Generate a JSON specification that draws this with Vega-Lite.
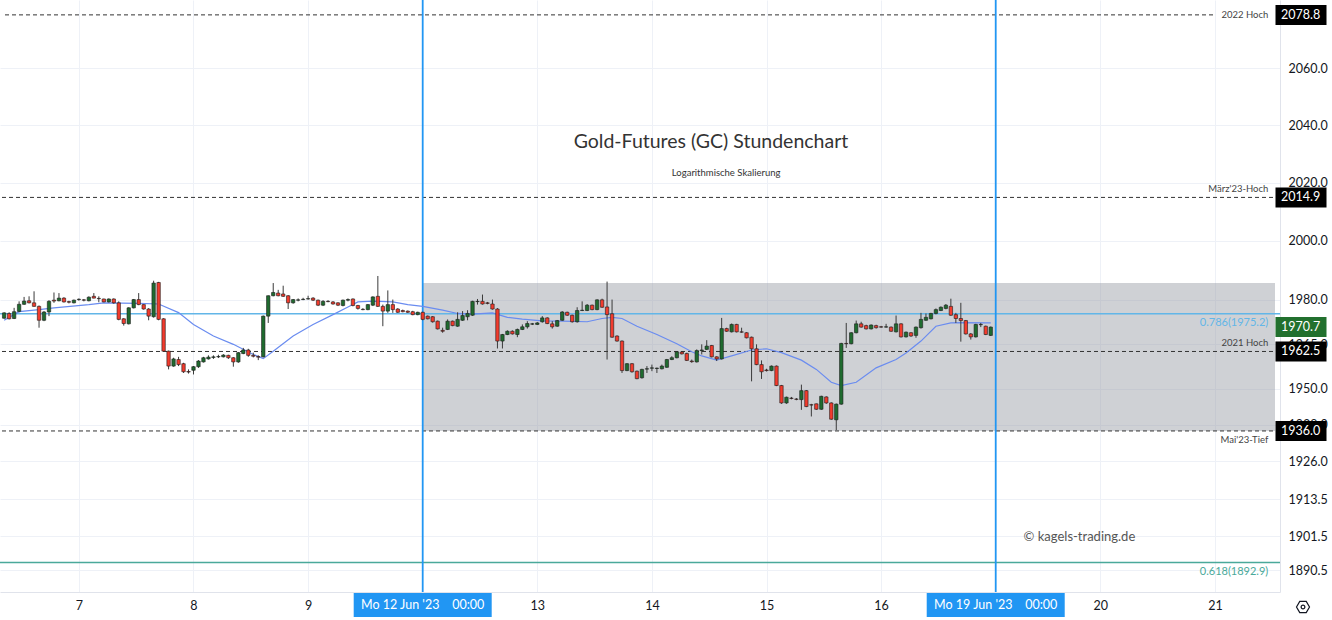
{
"$schema": "https://vega.github.io/schema/vega-lite/v6.json",
"width": 1280, "height": 592,
"autosize": {"type": "none"},
"padding": {"left": 0, "top": 0, "right": 52, "bottom": 28},
"background": "#ffffff",
"config": {"view": {"stroke": null}, "font": "Lato"},
"resolve": {"axis": {"x": "independent", "y": "independent"}},
"datasets": {
"candles": [
{"t":-84,"o":1973.7,"h":1975.7,"l":1973.5,"c":1975.5},
{"t":-83,"o":1975.3,"h":1975.7,"l":1973.3,"c":1973.5},
{"t":-82,"o":1973.6,"h":1977.2,"l":1973.4,"c":1975.9},
{"t":-81,"o":1976.0,"h":1979.4,"l":1975.7,"c":1978.4},
{"t":-80,"o":1978.4,"h":1980.9,"l":1978.2,"c":1979.5},
{"t":-79,"o":1979.6,"h":1981.1,"l":1978.7,"c":1978.9},
{"t":-78,"o":1978.9,"h":1982.8,"l":1977.6,"c":1977.7},
{"t":-77,"o":1977.7,"h":1978.0,"l":1970.5,"c":1973.0},
{"t":-76,"o":1973.0,"h":1976.1,"l":1972.7,"c":1975.8},
{"t":-75,"o":1975.8,"h":1979.8,"l":1974.4,"c":1979.4},
{"t":-74,"o":1979.8,"h":1982.4,"l":1978.9,"c":1979.5},
{"t":-73,"o":1979.6,"h":1982.2,"l":1979.4,"c":1980.5},
{"t":-72,"o":1980.5,"h":1980.8,"l":1979.0,"c":1979.2},
{"t":-71,"o":1979.3,"h":1979.6,"l":1978.7,"c":1979.1},
{"t":-70,"o":1978.9,"h":1980.0,"l":1978.7,"c":1979.8},
{"t":-69,"o":1980.0,"h":1980.4,"l":1979.6,"c":1980.1},
{"t":-68,"o":1979.9,"h":1980.2,"l":1979.4,"c":1979.8},
{"t":-67,"o":1979.6,"h":1981.1,"l":1979.4,"c":1980.8},
{"t":-66,"o":1981.1,"h":1982.2,"l":1980.4,"c":1980.5},
{"t":-65,"o":1980.4,"h":1981.1,"l":1979.1,"c":1980.3},
{"t":-64,"o":1980.2,"h":1980.3,"l":1979.1,"c":1979.2},
{"t":-63,"o":1979.2,"h":1980.4,"l":1979.0,"c":1980.2},
{"t":-62,"o":1980.2,"h":1980.4,"l":1978.6,"c":1978.9},
{"t":-61,"o":1978.9,"h":1979.4,"l":1973.0,"c":1973.3},
{"t":-60,"o":1973.5,"h":1973.7,"l":1971.2,"c":1971.9},
{"t":-59,"o":1971.8,"h":1977.4,"l":1971.6,"c":1977.2},
{"t":-58,"o":1977.2,"h":1980.2,"l":1977.0,"c":1980.0},
{"t":-57,"o":1980.0,"h":1982.2,"l":1978.1,"c":1978.3},
{"t":-56,"o":1978.3,"h":1978.4,"l":1976.6,"c":1976.8},
{"t":-55,"o":1976.8,"h":1977.1,"l":1973.0,"c":1974.4},
{"t":-54,"o":1974.2,"h":1986.4,"l":1973.9,"c":1985.6},
{"t":-53,"o":1985.8,"h":1986.0,"l":1973.0,"c":1973.3},
{"t":-52,"o":1973.5,"h":1973.7,"l":1962.4,"c":1962.6},
{"t":-51,"o":1962.6,"h":1962.8,"l":1956.5,"c":1957.6},
{"t":-50,"o":1957.6,"h":1960.4,"l":1957.4,"c":1960.0},
{"t":-49,"o":1959.8,"h":1960.7,"l":1957.6,"c":1958.1},
{"t":-48,"o":1958.4,"h":1958.7,"l":1955.3,"c":1955.7},
{"t":-47,"o":1955.8,"h":1956.5,"l":1955.1,"c":1955.6},
{"t":-46,"o":1956.2,"h":1957.6,"l":1954.8,"c":1957.4},
{"t":-45,"o":1957.4,"h":1959.6,"l":1957.0,"c":1959.3},
{"t":-44,"o":1959.0,"h":1960.7,"l":1958.8,"c":1960.4},
{"t":-43,"o":1960.0,"h":1961.2,"l":1959.8,"c":1960.6},
{"t":-42,"o":1960.5,"h":1961.2,"l":1960.0,"c":1960.7},
{"t":-41,"o":1960.7,"h":1961.4,"l":1960.3,"c":1960.8},
{"t":-40,"o":1960.7,"h":1961.6,"l":1960.5,"c":1961.3},
{"t":-39,"o":1961.2,"h":1961.4,"l":1960.0,"c":1960.4},
{"t":-38,"o":1960.4,"h":1960.6,"l":1957.4,"c":1959.0},
{"t":-37,"o":1959.0,"h":1962.3,"l":1958.7,"c":1962.1},
{"t":-36,"o":1961.8,"h":1963.7,"l":1961.6,"c":1963.0},
{"t":-35,"o":1963.0,"h":1963.4,"l":1960.7,"c":1961.2},
{"t":-34,"o":1961.2,"h":1962.1,"l":1960.5,"c":1960.9},
{"t":-33,"o":1960.8,"h":1961.2,"l":1959.6,"c":1960.6},
{"t":-32,"o":1960.7,"h":1974.6,"l":1960.5,"c":1974.4},
{"t":-31,"o":1974.4,"h":1981.4,"l":1972.1,"c":1981.3},
{"t":-30,"o":1981.3,"h":1985.6,"l":1981.1,"c":1982.4},
{"t":-29,"o":1982.2,"h":1983.3,"l":1981.1,"c":1981.3},
{"t":-28,"o":1981.9,"h":1984.7,"l":1980.9,"c":1981.1},
{"t":-27,"o":1981.3,"h":1981.5,"l":1976.8,"c":1978.9},
{"t":-26,"o":1978.9,"h":1980.2,"l":1978.6,"c":1980.0},
{"t":-25,"o":1979.8,"h":1980.4,"l":1979.4,"c":1979.9},
{"t":-24,"o":1980.0,"h":1980.6,"l":1979.8,"c":1980.1},
{"t":-23,"o":1980.2,"h":1981.3,"l":1980.0,"c":1980.3},
{"t":-22,"o":1980.5,"h":1980.8,"l":1979.5,"c":1979.8},
{"t":-21,"o":1979.8,"h":1980.0,"l":1977.8,"c":1978.1},
{"t":-20,"o":1978.1,"h":1979.8,"l":1977.8,"c":1979.4},
{"t":-19,"o":1979.4,"h":1979.8,"l":1979.1,"c":1979.3},
{"t":-18,"o":1979.2,"h":1979.5,"l":1978.3,"c":1978.5},
{"t":-17,"o":1978.9,"h":1979.1,"l":1977.8,"c":1978.1},
{"t":-16,"o":1978.0,"h":1980.0,"l":1977.7,"c":1979.8},
{"t":-15,"o":1979.8,"h":1980.4,"l":1979.4,"c":1980.0},
{"t":-14,"o":1980.2,"h":1980.4,"l":1977.7,"c":1978.0},
{"t":-13,"o":1978.0,"h":1978.2,"l":1976.6,"c":1977.0},
{"t":-12,"o":1976.7,"h":1977.1,"l":1976.4,"c":1976.6},
{"t":-11,"o":1976.6,"h":1978.5,"l":1976.4,"c":1978.3},
{"t":-10,"o":1978.1,"h":1981.1,"l":1977.8,"c":1980.9},
{"t":-9,"o":1981.1,"h":1988.0,"l":1977.5,"c":1977.7},
{"t":-8,"o":1977.7,"h":1978.3,"l":1971.0,"c":1976.1},
{"t":-7,"o":1976.1,"h":1983.1,"l":1975.5,"c":1978.3},
{"t":-6,"o":1978.3,"h":1980.0,"l":1975.5,"c":1976.6},
{"t":-5,"o":1976.8,"h":1977.1,"l":1975.5,"c":1975.7},
{"t":-4,"o":1976.3,"h":1976.6,"l":1975.7,"c":1975.9},
{"t":-3,"o":1976.1,"h":1976.3,"l":1975.5,"c":1975.7},
{"t":-2,"o":1975.9,"h":1976.2,"l":1974.7,"c":1974.9},
{"t":-1,"o":1974.9,"h":1975.9,"l":1974.7,"c":1975.7},
{"t":0,"o":1975.7,"h":1975.9,"l":1973.0,"c":1973.3},
{"t":1,"o":1974.4,"h":1974.6,"l":1973.3,"c":1973.5},
{"t":2,"o":1974.2,"h":1974.4,"l":1972.2,"c":1972.5},
{"t":3,"o":1972.7,"h":1972.9,"l":1969.9,"c":1970.1},
{"t":4,"o":1969.6,"h":1970.5,"l":1968.8,"c":1969.3},
{"t":5,"o":1969.9,"h":1973.3,"l":1969.7,"c":1972.7},
{"t":6,"o":1972.7,"h":1972.9,"l":1971.0,"c":1971.2},
{"t":7,"o":1971.0,"h":1975.7,"l":1970.8,"c":1973.3},
{"t":8,"o":1973.0,"h":1976.1,"l":1972.8,"c":1974.6},
{"t":9,"o":1974.2,"h":1976.4,"l":1973.0,"c":1975.3},
{"t":10,"o":1974.7,"h":1979.6,"l":1974.5,"c":1979.4},
{"t":11,"o":1979.3,"h":1980.2,"l":1978.3,"c":1979.4},
{"t":12,"o":1979.4,"h":1981.7,"l":1978.3,"c":1978.5},
{"t":13,"o":1978.9,"h":1979.2,"l":1978.4,"c":1978.7},
{"t":14,"o":1978.5,"h":1980.0,"l":1976.6,"c":1976.8},
{"t":15,"o":1976.8,"h":1977.1,"l":1963.5,"c":1966.0},
{"t":16,"o":1966.0,"h":1968.4,"l":1963.5,"c":1968.2},
{"t":17,"o":1968.2,"h":1969.6,"l":1968.0,"c":1969.3},
{"t":18,"o":1969.3,"h":1969.6,"l":1968.2,"c":1968.4},
{"t":19,"o":1968.2,"h":1970.2,"l":1967.3,"c":1969.9},
{"t":20,"o":1969.9,"h":1971.6,"l":1969.7,"c":1970.8},
{"t":21,"o":1970.8,"h":1972.7,"l":1970.2,"c":1971.9},
{"t":22,"o":1971.7,"h":1972.1,"l":1971.4,"c":1971.8},
{"t":23,"o":1971.6,"h":1972.4,"l":1971.4,"c":1972.1},
{"t":24,"o":1972.5,"h":1974.4,"l":1972.2,"c":1973.8},
{"t":25,"o":1973.8,"h":1974.0,"l":1971.7,"c":1971.9},
{"t":26,"o":1971.8,"h":1972.7,"l":1970.2,"c":1970.8},
{"t":27,"o":1971.0,"h":1973.1,"l":1970.8,"c":1972.9},
{"t":28,"o":1973.0,"h":1976.1,"l":1972.8,"c":1975.8},
{"t":29,"o":1975.7,"h":1975.9,"l":1974.5,"c":1974.7},
{"t":30,"o":1974.7,"h":1974.9,"l":1972.2,"c":1972.5},
{"t":31,"o":1972.5,"h":1977.4,"l":1972.2,"c":1976.3},
{"t":32,"o":1976.3,"h":1979.4,"l":1976.1,"c":1976.4},
{"t":33,"o":1976.3,"h":1978.5,"l":1976.1,"c":1978.1},
{"t":34,"o":1978.1,"h":1978.3,"l":1976.4,"c":1976.6},
{"t":35,"o":1976.6,"h":1980.1,"l":1976.4,"c":1979.9},
{"t":36,"o":1979.9,"h":1980.3,"l":1977.2,"c":1977.4},
{"t":37,"o":1977.5,"h":1986.1,"l":1959.8,"c":1974.9},
{"t":38,"o":1975.2,"h":1980.0,"l":1967.1,"c":1967.3},
{"t":39,"o":1967.7,"h":1967.9,"l":1965.8,"c":1966.0},
{"t":40,"o":1966.0,"h":1966.2,"l":1955.3,"c":1956.1},
{"t":41,"o":1956.1,"h":1958.6,"l":1955.9,"c":1958.4},
{"t":42,"o":1958.4,"h":1958.6,"l":1955.4,"c":1955.7},
{"t":43,"o":1955.9,"h":1956.1,"l":1953.2,"c":1953.4},
{"t":44,"o":1953.7,"h":1956.7,"l":1953.4,"c":1956.5},
{"t":45,"o":1956.6,"h":1957.6,"l":1955.3,"c":1956.7},
{"t":46,"o":1956.9,"h":1958.1,"l":1955.9,"c":1957.0},
{"t":47,"o":1956.8,"h":1957.1,"l":1955.3,"c":1956.9},
{"t":48,"o":1956.7,"h":1958.1,"l":1956.5,"c":1957.6},
{"t":49,"o":1957.2,"h":1960.0,"l":1957.0,"c":1959.8},
{"t":50,"o":1959.8,"h":1960.9,"l":1959.6,"c":1960.4},
{"t":51,"o":1960.4,"h":1962.6,"l":1960.2,"c":1962.4},
{"t":52,"o":1962.3,"h":1962.5,"l":1961.5,"c":1961.7},
{"t":53,"o":1961.8,"h":1962.1,"l":1959.3,"c":1959.5},
{"t":54,"o":1959.3,"h":1959.8,"l":1958.7,"c":1959.1},
{"t":55,"o":1959.0,"h":1963.2,"l":1958.8,"c":1962.8},
{"t":56,"o":1962.8,"h":1964.9,"l":1961.5,"c":1963.0},
{"t":57,"o":1963.2,"h":1966.3,"l":1963.0,"c":1964.3},
{"t":58,"o":1964.5,"h":1964.7,"l":1960.5,"c":1960.7},
{"t":59,"o":1960.7,"h":1960.9,"l":1959.3,"c":1960.0},
{"t":60,"o":1960.0,"h":1973.8,"l":1959.8,"c":1970.2},
{"t":61,"o":1970.2,"h":1970.5,"l":1969.1,"c":1969.3},
{"t":62,"o":1969.1,"h":1971.9,"l":1968.9,"c":1971.6},
{"t":63,"o":1971.6,"h":1971.8,"l":1968.9,"c":1969.1},
{"t":64,"o":1969.1,"h":1970.5,"l":1968.8,"c":1969.0},
{"t":65,"o":1968.8,"h":1969.0,"l":1966.9,"c":1967.1},
{"t":66,"o":1967.3,"h":1967.5,"l":1952.5,"c":1963.4},
{"t":67,"o":1963.4,"h":1964.9,"l":1957.9,"c":1958.1},
{"t":68,"o":1958.1,"h":1959.5,"l":1953.3,"c":1955.7},
{"t":69,"o":1956.3,"h":1956.7,"l":1955.8,"c":1956.1},
{"t":70,"o":1956.1,"h":1957.8,"l":1955.9,"c":1957.6},
{"t":71,"o":1957.6,"h":1957.8,"l":1950.9,"c":1951.1},
{"t":72,"o":1951.1,"h":1951.3,"l":1945.0,"c":1945.3},
{"t":73,"o":1945.3,"h":1947.4,"l":1945.0,"c":1947.2},
{"t":74,"o":1946.9,"h":1947.3,"l":1946.5,"c":1946.8},
{"t":75,"o":1946.6,"h":1946.9,"l":1946.2,"c":1946.5},
{"t":76,"o":1946.4,"h":1951.4,"l":1943.0,"c":1949.4},
{"t":77,"o":1949.4,"h":1949.6,"l":1943.9,"c":1944.1},
{"t":78,"o":1944.7,"h":1945.0,"l":1940.8,"c":1944.6},
{"t":79,"o":1945.0,"h":1945.1,"l":1943.0,"c":1943.2},
{"t":80,"o":1943.2,"h":1947.7,"l":1943.0,"c":1947.5},
{"t":81,"o":1947.3,"h":1947.5,"l":1945.0,"c":1945.3},
{"t":82,"o":1945.3,"h":1945.5,"l":1939.7,"c":1939.9},
{"t":83,"o":1939.7,"h":1945.1,"l":1936.3,"c":1944.9},
{"t":84,"o":1944.9,"h":1965.4,"l":1944.7,"c":1965.2},
{"t":85,"o":1965.2,"h":1972.1,"l":1963.7,"c":1965.1},
{"t":86,"o":1965.1,"h":1969.0,"l":1964.9,"c":1968.8},
{"t":87,"o":1968.8,"h":1972.9,"l":1968.6,"c":1971.8},
{"t":88,"o":1971.8,"h":1972.5,"l":1970.5,"c":1970.7},
{"t":89,"o":1971.2,"h":1971.5,"l":1969.9,"c":1970.1},
{"t":90,"o":1970.1,"h":1971.6,"l":1969.9,"c":1971.4},
{"t":91,"o":1971.2,"h":1971.5,"l":1970.2,"c":1970.5},
{"t":92,"o":1970.8,"h":1971.1,"l":1970.5,"c":1970.7},
{"t":93,"o":1970.7,"h":1971.8,"l":1970.5,"c":1970.8},
{"t":94,"o":1970.7,"h":1970.9,"l":1969.1,"c":1969.3},
{"t":95,"o":1969.1,"h":1974.6,"l":1968.9,"c":1971.8},
{"t":96,"o":1971.8,"h":1972.0,"l":1967.2,"c":1967.4},
{"t":97,"o":1967.4,"h":1969.2,"l":1967.2,"c":1969.0},
{"t":98,"o":1968.8,"h":1969.0,"l":1967.4,"c":1967.7},
{"t":99,"o":1967.9,"h":1970.9,"l":1967.1,"c":1970.7},
{"t":100,"o":1970.5,"h":1975.5,"l":1970.2,"c":1973.3},
{"t":101,"o":1973.0,"h":1975.3,"l":1972.8,"c":1974.0},
{"t":102,"o":1973.5,"h":1975.5,"l":1973.3,"c":1975.3},
{"t":103,"o":1975.3,"h":1977.0,"l":1975.0,"c":1976.6},
{"t":104,"o":1976.3,"h":1977.7,"l":1976.1,"c":1977.4},
{"t":105,"o":1977.0,"h":1978.5,"l":1976.7,"c":1978.1},
{"t":106,"o":1977.7,"h":1980.3,"l":1974.5,"c":1974.7},
{"t":107,"o":1974.9,"h":1975.5,"l":1972.1,"c":1973.6},
{"t":108,"o":1973.6,"h":1978.9,"l":1965.8,"c":1972.9},
{"t":109,"o":1972.9,"h":1973.1,"l":1968.2,"c":1968.4},
{"t":110,"o":1968.4,"h":1968.7,"l":1966.5,"c":1967.4},
{"t":111,"o":1967.4,"h":1971.8,"l":1967.2,"c":1971.6},
{"t":112,"o":1971.5,"h":1972.1,"l":1970.7,"c":1971.6},
{"t":113,"o":1971.0,"h":1971.2,"l":1968.0,"c":1968.2},
{"t":114,"o":1967.9,"h":1970.9,"l":1967.7,"c":1970.7}
],
"ema": [
{"t":-84,"v":1973.0},{"t":-81,"v":1975.9},{"t":-77,"v":1976.6},{"t":-74,"v":1977.2},{"t":-67,"v":1978.3},{"t":-64,"v":1978.9},{"t":-57,"v":1978.7},{"t":-53,"v":1978.5},{"t":-49,"v":1975.6},{"t":-46,"v":1971.6},{"t":-42,"v":1967.7},{"t":-38,"v":1964.9},{"t":-34,"v":1961.5},{"t":-32,"v":1960.1},{"t":-30,"v":1962.6},{"t":-26,"v":1967.7},{"t":-22,"v":1971.6},{"t":-18,"v":1974.9},{"t":-15,"v":1977.5},{"t":-13,"v":1979.2},{"t":-10,"v":1979.5},{"t":-6,"v":1979.2},{"t":-3,"v":1978.3},{"t":0,"v":1977.7},{"t":4,"v":1976.4},{"t":7,"v":1975.3},{"t":10,"v":1975.1},{"t":14,"v":1975.5},{"t":17,"v":1974.0},{"t":20,"v":1973.4},{"t":24,"v":1972.8},{"t":28,"v":1972.7},{"t":33,"v":1972.5},{"t":36,"v":1973.6},{"t":38,"v":1974.0},{"t":40,"v":1973.6},{"t":43,"v":1971.0},{"t":47,"v":1968.2},{"t":51,"v":1965.1},{"t":54,"v":1962.4},{"t":56,"v":1961.0},{"t":59,"v":1959.6},{"t":62,"v":1961.0},{"t":66,"v":1963.0},{"t":69,"v":1963.4},{"t":72,"v":1962.1},{"t":76,"v":1959.6},{"t":79,"v":1956.5},{"t":82,"v":1952.2},{"t":84,"v":1951.1},{"t":87,"v":1952.2},{"t":91,"v":1957.0},{"t":95,"v":1959.8},{"t":97,"v":1962.0},{"t":100,"v":1966.0},{"t":103,"v":1971.0},{"t":106,"v":1972.1},{"t":108,"v":1972.2},{"t":114,"v":1972.1}
],
"levels": [
{"price":2078.8,"name":"2022 Hoch"},
{"price":2014.9,"name":"März'23-Hoch"},
{"price":1962.5,"name":"2021 Hoch"},
{"price":1936.0,"name":"Mai'23-Tief"}
],
"fibs": [
{"price":1975.2,"name":"0.786(1975.2)"},
{"price":1892.9,"name":"0.618(1892.9)"}
],
"zone": [{"t0":0,"t1":171.05,"p0":1936.0,"p1":1985.6}],
"markers": [
{"t":0,"label":"Mo 12 Jun '23\u00a0\u00a0\u00a0 00:00"},
{"t":115,"label":"Mo 19 Jun '23\u00a0\u00a0\u00a0 00:00"}
],
"tags": [
{"price":2078.8,"kind":"level"},
{"price":2014.9,"kind":"level"},
{"price":1962.5,"kind":"level"},
{"price":1936.0,"kind":"level"},
{"price":1970.7,"kind":"last"}
]
},
"layer": [
{
"data": {"name": "candles"},
"mark": {"type": "rule", "opacity": 0},
"encoding": {
"x": {"field": "t", "type": "quantitative", "scale": {"domain": [-83.83, 171.05], "nice": false, "zero": false},
"axis": {"title": null, "orient": "bottom", "values": [-69, -46, -23, 23, 46, 69, 92, 136, 159],
"labelExpr": "datum.value == -69 ? '7' : datum.value == -46 ? '8' : datum.value == -23 ? '9' : datum.value == 23 ? '13' : datum.value == 46 ? '14' : datum.value == 69 ? '15' : datum.value == 92 ? '16' : datum.value == 136 ? '20' : '21'",
"grid": true, "gridColor": "#eef1f7", "ticks": false, "domainColor": "#e0e3eb", "labelFont": "Lato", "labelFontSize": 12.5, "labelColor": "#131722", "labelPadding": 7, "labelOverlap": false, "labelFlush": false}},
"y": {"field": "l", "type": "quantitative", "scale": {"type": "log", "domain": [1883.4, 2084.1], "nice": false, "zero": false},
"axis": {"title": null, "orient": "right", "values": [2060, 2040, 2020, 2000, 1980, 1965, 1950, 1938, 1926, 1913.5, 1901.5, 1890.5], "format": ".1f",
"grid": true, "gridColor": "#eef1f7", "ticks": false, "domainColor": "#e0e3eb", "labelFont": "Lato", "labelFontSize": 12.5, "labelColor": "#131722", "labelPadding": 8, "labelAlign": "left", "labelOverlap": false, "labelBound": false, "labelFlush": false}},
"y2": {"field": "h"}
}
},
{
"data": {"name": "zone"},
"mark": {"type": "rect", "fill": "#9598a1", "opacity": 0.45},
"encoding": {
"x": {"field": "t0", "type": "quantitative", "scale": {"domain": [-83.83, 171.05], "nice": false, "zero": false}, "axis": null},
"x2": {"field": "t1"},
"y": {"field": "p0", "type": "quantitative", "scale": {"type": "log", "domain": [1883.4, 2084.1], "nice": false, "zero": false}, "axis": null},
"y2": {"field": "p1"}
}
},
{
"data": {"name": "fibs"},
"mark": {"type": "rule", "strokeWidth": 1.5},
"encoding": {
"y": {"field": "price", "type": "quantitative", "scale": {"type": "log", "domain": [1883.4, 2084.1], "nice": false, "zero": false}, "axis": null},
"color": {"field": "name", "type": "nominal", "scale": {"domain": ["0.786(1975.2)", "0.618(1892.9)"], "range": ["#62b6e8", "#4aa99a"]}, "legend": null}
}
},
{
"data": {"name": "levels"},
"transform": [{"filter": "datum.price != 2078.8"}],
"mark": {"type": "rule", "color": "#333333", "strokeWidth": 1, "strokeDash": [4, 3]},
"encoding": {
"y": {"field": "price", "type": "quantitative", "scale": {"type": "log", "domain": [1883.4, 2084.1], "nice": false, "zero": false}, "axis": null}
}
},
{
"data": {"name": "levels"},
"transform": [{"filter": "datum.price == 2078.8"}],
"mark": {"type": "rule", "color": "#333333", "strokeWidth": 1, "strokeDash": [4, 3]},
"encoding": {
"x": {"datum": -83.83, "type": "quantitative", "scale": {"domain": [-83.83, 171.05], "nice": false, "zero": false}, "axis": null},
"x2": {"datum": 159.1},
"y": {"field": "price", "type": "quantitative", "scale": {"type": "log", "domain": [1883.4, 2084.1], "nice": false, "zero": false}, "axis": null}
}
},
{
"data": {"name": "markers"},
"mark": {"type": "rule", "color": "#2196f3", "strokeWidth": 1.8},
"encoding": {
"x": {"field": "t", "type": "quantitative", "scale": {"domain": [-83.83, 171.05], "nice": false, "zero": false}, "axis": null}
}
},
{
"data": {"name": "ema"},
"mark": {"type": "line", "color": "#6a8cf0", "strokeWidth": 1.2},
"encoding": {
"x": {"field": "t", "type": "quantitative", "scale": {"domain": [-83.83, 171.05], "nice": false, "zero": false}, "axis": null},
"y": {"field": "v", "type": "quantitative", "scale": {"type": "log", "domain": [1883.4, 2084.1], "nice": false, "zero": false}, "axis": null}
}
},
{
"data": {"name": "candles"},
"mark": {"type": "rule", "color": "#3a3a3a", "strokeWidth": 1},
"encoding": {
"x": {"field": "t", "type": "quantitative", "scale": {"domain": [-83.83, 171.05], "nice": false, "zero": false}, "axis": null},
"y": {"field": "l", "type": "quantitative", "scale": {"type": "log", "domain": [1883.4, 2084.1], "nice": false, "zero": false}, "axis": null},
"y2": {"field": "h"}
}
},
{
"data": {"name": "candles"},
"mark": {"type": "bar", "orient": "vertical", "size": 3.4, "stroke": "#1c1c1c", "strokeWidth": 0.6},
"encoding": {
"x": {"field": "t", "type": "quantitative", "scale": {"domain": [-83.83, 171.05], "nice": false, "zero": false}, "axis": null},
"y": {"field": "o", "type": "quantitative", "scale": {"type": "log", "domain": [1883.4, 2084.1], "nice": false, "zero": false}, "axis": null},
"y2": {"field": "c"},
"fill": {"condition": {"test": "datum.c >= datum.o", "value": "#1f6b2f"}, "value": "#f23b2d"}
}
},
{
"data": {"name": "levels"},
"transform": [{"filter": "datum.price == 2078.8"}],
"mark": {"type": "text", "align": "right", "baseline": "middle", "fontSize": 9.5, "color": "#444444", "font": "Lato"},
"encoding": {
"x": {"datum": 169.7, "type": "quantitative", "scale": {"domain": [-83.83, 171.05], "nice": false, "zero": false}, "axis": null},
"y": {"field": "price", "type": "quantitative", "scale": {"type": "log", "domain": [1883.4, 2084.1], "nice": false, "zero": false}, "axis": null},
"text": {"field": "name"}
}
},
{
"data": {"name": "levels"},
"transform": [{"filter": "datum.price == 2014.9 || datum.price == 1962.5"}],
"mark": {"type": "text", "align": "right", "baseline": "middle", "dy": -8, "fontSize": 9.5, "color": "#444444", "font": "Lato"},
"encoding": {
"x": {"datum": 169.7, "type": "quantitative", "scale": {"domain": [-83.83, 171.05], "nice": false, "zero": false}, "axis": null},
"y": {"field": "price", "type": "quantitative", "scale": {"type": "log", "domain": [1883.4, 2084.1], "nice": false, "zero": false}, "axis": null},
"text": {"field": "name"}
}
},
{
"data": {"name": "levels"},
"transform": [{"filter": "datum.price == 1936.0"}],
"mark": {"type": "text", "align": "right", "baseline": "middle", "dy": 9, "fontSize": 9.5, "color": "#444444", "font": "Lato"},
"encoding": {
"x": {"datum": 169.7, "type": "quantitative", "scale": {"domain": [-83.83, 171.05], "nice": false, "zero": false}, "axis": null},
"y": {"field": "price", "type": "quantitative", "scale": {"type": "log", "domain": [1883.4, 2084.1], "nice": false, "zero": false}, "axis": null},
"text": {"field": "name"}
}
},
{
"data": {"name": "fibs"},
"mark": {"type": "text", "align": "right", "baseline": "middle", "dy": 9, "fontSize": 11, "font": "Lato"},
"encoding": {
"x": {"datum": 169.7, "type": "quantitative", "scale": {"domain": [-83.83, 171.05], "nice": false, "zero": false}, "axis": null},
"y": {"field": "price", "type": "quantitative", "scale": {"type": "log", "domain": [1883.4, 2084.1], "nice": false, "zero": false}, "axis": null},
"text": {"field": "name"},
"color": {"field": "name", "type": "nominal", "scale": {"domain": ["0.786(1975.2)", "0.618(1892.9)"], "range": ["#4aa3df", "#3f9e8e"]}, "legend": null}
}
},
{
"data": {"values": [{"label": "Gold-Futures (GC) Stundenchart"}]},
"mark": {"type": "text", "align": "center", "baseline": "middle", "fontSize": 19.5, "color": "#333333", "font": "Lato"},
"encoding": {
"x": {"datum": 57.85, "type": "quantitative", "scale": {"domain": [-83.83, 171.05], "nice": false, "zero": false}, "axis": null},
"y": {"datum": 2034.1, "type": "quantitative", "scale": {"type": "log", "domain": [1883.4, 2084.1], "nice": false, "zero": false}, "axis": null},
"text": {"field": "label"}
}
},
{
"data": {"values": [{"label": "Logarithmische Skalierung"}]},
"mark": {"type": "text", "align": "center", "baseline": "middle", "fontSize": 9.5, "color": "#333333", "font": "Lato"},
"encoding": {
"x": {"datum": 60.9, "type": "quantitative", "scale": {"domain": [-83.83, 171.05], "nice": false, "zero": false}, "axis": null},
"y": {"datum": 2023.4, "type": "quantitative", "scale": {"type": "log", "domain": [1883.4, 2084.1], "nice": false, "zero": false}, "axis": null},
"text": {"field": "label"}
}
},
{
"data": {"values": [{"label": "© kagels-trading.de"}]},
"mark": {"type": "text", "align": "center", "baseline": "middle", "fontSize": 13, "color": "#555555", "font": "Lato"},
"encoding": {
"x": {"datum": 131.8, "type": "quantitative", "scale": {"domain": [-83.83, 171.05], "nice": false, "zero": false}, "axis": null},
"y": {"datum": 1901.2, "type": "quantitative", "scale": {"type": "log", "domain": [1883.4, 2084.1], "nice": false, "zero": false}, "axis": null},
"text": {"field": "label"}
}
},
{
"data": {"name": "tags"},
"mark": {"type": "point", "shape": "M-1,-0.392H1V0.392H-1Z", "size": 2601, "filled": true, "opacity": 1, "strokeWidth": 0, "xOffset": 26},
"encoding": {
"x": {"datum": 171.05, "type": "quantitative", "scale": {"domain": [-83.83, 171.05], "nice": false, "zero": false}, "axis": null},
"y": {"field": "price", "type": "quantitative", "scale": {"type": "log", "domain": [1883.4, 2084.1], "nice": false, "zero": false}, "axis": null},
"fill": {"field": "kind", "type": "nominal", "scale": {"domain": ["level", "last"], "range": ["#000000", "#22702e"]}, "legend": null}
}
},
{
"data": {"name": "tags"},
"mark": {"type": "text", "align": "left", "baseline": "middle", "dx": 6, "fontSize": 12.5, "color": "#ffffff", "font": "Lato"},
"encoding": {
"x": {"datum": 171.05, "type": "quantitative", "scale": {"domain": [-83.83, 171.05], "nice": false, "zero": false}, "axis": null},
"y": {"field": "price", "type": "quantitative", "scale": {"type": "log", "domain": [1883.4, 2084.1], "nice": false, "zero": false}, "axis": null},
"text": {"field": "price", "type": "quantitative", "format": ".1f"}
}
},
{
"data": {"name": "markers"},
"mark": {"type": "point", "shape": "M-1,-0.174H1V0.174H-1Z", "size": 19044, "filled": true, "opacity": 1, "strokeWidth": 0, "color": "#2196f3", "yOffset": 13},
"encoding": {
"x": {"field": "t", "type": "quantitative", "scale": {"domain": [-83.83, 171.05], "nice": false, "zero": false}, "axis": null},
"y": {"datum": 1883.4, "type": "quantitative", "scale": {"type": "log", "domain": [1883.4, 2084.1], "nice": false, "zero": false}, "axis": null}
}
},
{
"data": {"name": "markers"},
"mark": {"type": "text", "align": "center", "baseline": "middle", "fontSize": 12.5, "color": "#ffffff", "font": "Lato", "yOffset": 13},
"encoding": {
"x": {"field": "t", "type": "quantitative", "scale": {"domain": [-83.83, 171.05], "nice": false, "zero": false}, "axis": null},
"y": {"datum": 1883.4, "type": "quantitative", "scale": {"type": "log", "domain": [1883.4, 2084.1], "nice": false, "zero": false}, "axis": null},
"text": {"field": "label"}
}
},
{
"data": {"values": [{"icon": "hex"}]},
"mark": {"type": "point", "shape": "M-1,0L-0.5,-0.866L0.5,-0.866L1,0L0.5,0.866L-0.5,0.866Z", "size": 169, "filled": false, "color": "#131722", "strokeWidth": 1.2, "opacity": 1, "xOffset": 28, "yOffset": 15},
"encoding": {
"x": {"datum": 171.05, "type": "quantitative", "scale": {"domain": [-83.83, 171.05], "nice": false, "zero": false}, "axis": null},
"y": {"datum": 1883.4, "type": "quantitative", "scale": {"type": "log", "domain": [1883.4, 2084.1], "nice": false, "zero": false}, "axis": null}
}
},
{
"data": {"values": [{"icon": "dot"}]},
"mark": {"type": "point", "shape": "circle", "size": 14, "filled": false, "color": "#131722", "strokeWidth": 1.2, "opacity": 1, "xOffset": 28, "yOffset": 15},
"encoding": {
"x": {"datum": 171.05, "type": "quantitative", "scale": {"domain": [-83.83, 171.05], "nice": false, "zero": false}, "axis": null},
"y": {"datum": 1883.4, "type": "quantitative", "scale": {"type": "log", "domain": [1883.4, 2084.1], "nice": false, "zero": false}, "axis": null}
}
}
]
}
